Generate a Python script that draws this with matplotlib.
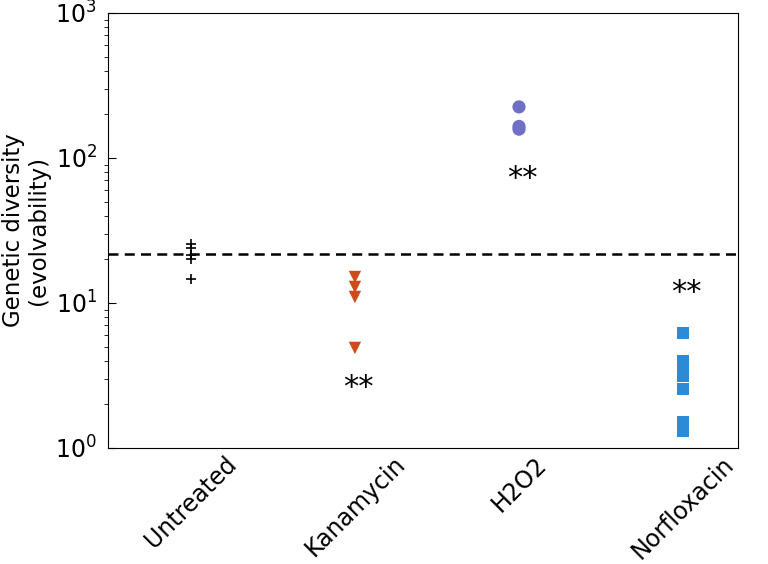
import numpy as np
import matplotlib
matplotlib.use('Agg')
import matplotlib.pyplot as plt

# data
categories = ['Untreated', 'Kanamycin', 'H2O2', 'Norfloxacin']
untreated = [25.5, 24.0, 21.5, 20.0, 14.6]
kanamycin = [15.1, 12.9, 11.0, 4.9]
h2o2 = [225, 165, 158]
norfloxacin = [6.2, 3.98, 3.56, 3.14, 2.55, 1.49, 1.31]
baseline = 21.8
stars_y = [None, 2.62, 72, 11.8]

fig = plt.figure(figsize=(7.68, 5.64), dpi=100)
ax = fig.add_axes([0.1406, 0.2057, 0.8204, 0.7713])

ax.scatter([0] * len(untreated), untreated, marker='+', color='black', s=60, linewidths=1.2)
ax.scatter([1] * len(kanamycin), kanamycin, marker='v', color='#cc4c1c', s=80, edgecolors='none')
ax.scatter([2] * len(h2o2), h2o2, marker='o', color='#6f6fc6', s=90, edgecolors='none')
ax.scatter([3] * len(norfloxacin), norfloxacin, marker='s', color='#2b8bd6', s=85,
           edgecolors='none')

ax.axhline(baseline, color='black', linestyle='--', linewidth=1.8, dashes=(4, 2.5))

for i, sy in enumerate(stars_y):
    if sy is not None:
        ax.text(i + 0.02, sy, '**', ha='center', va='center', fontsize=22)

ax.set_yscale('log')
ax.set_ylim(1, 1000)
ax.set_xlim(-0.505, 3.335)
ax.set_xticks(range(len(categories)))
ax.set_xticklabels(categories, rotation=45, ha='center', fontsize=17)
ax.tick_params(axis='x', length=0, pad=3)
ax.tick_params(axis='y', which='major', direction='in', length=6, labelsize=17, pad=8)
ax.tick_params(axis='y', which='minor', direction='out', length=3)
ax.set_ylabel('Genetic diversity\n(evolvability)', fontsize=16.5, linespacing=1.1)

fig.savefig('out.png', dpi=100)
